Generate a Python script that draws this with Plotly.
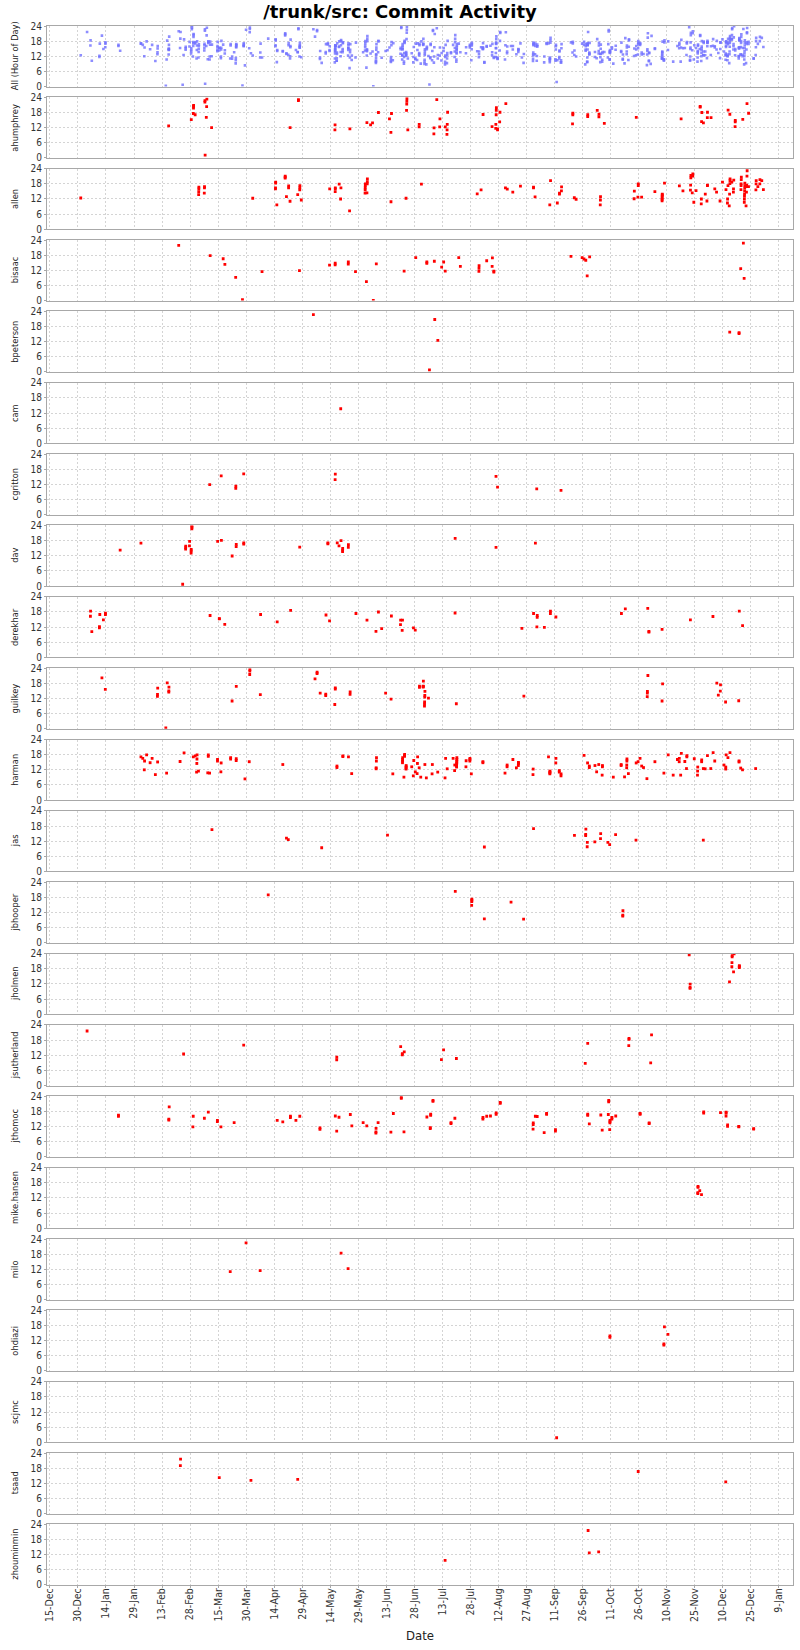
import pandas as pd
import plotly.graph_objects as go
from plotly.subplots import make_subplots

TITLE = "/trunk/src: Commit Activity"
X_START = "2004-12-13 11:00"
X_END = "2006-01-16 12:00"
TICK0 = "2004-12-15"
HOUR_TICKS = [0, 6, 12, 18, 24]

ahumphrey = [("2005-02-16",12.7),("2005-02-28",15.2),("2005-03-01",20.8),("2005-03-01",20.4),("2005-03-01",19.7),("2005-03-01",17.6),("2005-03-02",17.1),("2005-03-07",22.7),("2005-03-07",22.1),("2005-03-08",23.3),("2005-03-08",20.3),("2005-03-08",16.1),("2005-03-08",1.1),("2005-03-11",12.0),("2005-04-22",12.0),("2005-04-26",23.1),("2005-04-26",22.7),("2005-05-16",13.1),("2005-05-16",11.1),("2005-05-24",11.5),("2005-06-02",14.0),("2005-06-04",13.1),("2005-06-05",13.9),("2005-06-08",18.0),("2005-06-14",15.5),("2005-06-15",10.1),("2005-06-15",17.6),
("2005-06-23",23.5),("2005-06-23",22.4),("2005-06-23",21.3),("2005-06-23",18.8),("2005-06-24",11.1),("2005-06-30",13.3),("2005-06-30",12.3),("2005-07-09",23.1),("2005-07-11",15.5),("2005-07-08",11.9),("2005-07-08",9.5),("2005-07-11",12.3),("2005-07-14",12.3),("2005-07-15",13.3),("2005-07-15",11.1),("2005-07-15",18.1),("2005-07-15",9.3),("2005-08-03",17.2),("2005-08-10",19.9),("2005-08-10",18.8),("2005-08-10",17.1),("2005-08-12",14.3),("2005-08-12",18.1),("2005-08-08",12.4),("2005-08-10",13.3),("2005-08-10",11.7),("2005-08-11",11.1),("2005-08-11",11.5),("2005-08-15",21.5),("2005-09-20",17.7),("2005-09-20",17.1),("2005-09-20",13.5),("2005-09-28",17.1),("2005-09-28",16.4),("2005-10-03",18.8),("2005-10-04",17.3),("2005-10-04",16.3),("2005-10-07",13.7),("2005-10-24",16.1),("2005-11-17",15.5),("2005-11-27",20.4),("2005-11-27",20.1),("2005-11-28",18.0),("2005-12-01",18.1),("2005-12-01",16.0),("2005-11-28",14.4),("2005-11-29",13.9),("2005-12-03",16.0),("2005-12-12",18.9),("2005-12-13",17.3),("2005-12-16",14.9),("2005-12-16",14.3),("2005-12-16",12.4),("2005-12-20",15.3),("2005-12-22",21.5),("2005-12-23",17.7)]

allen = [("2004-12-31",12.4),("2005-03-04",16.7),("2005-03-04",16.0),("2005-03-04",14.9),("2005-03-04",13.7),("2005-03-07",16.9),("2005-03-07",16.4),("2005-03-07",14.3),("2005-04-02",12.3),("2005-04-14",18.7),("2005-04-14",18.3),("2005-04-14",16.4),("2005-04-14",16.0),("2005-04-15",9.7),("2005-04-19",21.1),("2005-04-19",20.7),("2005-04-19",20.3),("2005-04-20",12.9),("2005-04-21",17.2),("2005-04-21",16.4),("2005-04-22",11.1),("2005-04-27",17.3),("2005-04-27",16.4),("2005-04-27",15.6),("2005-04-26",13.7),("2005-04-28",11.6),("2005-05-13",16.0),("2005-05-16",16.4),("2005-05-16",16.0),("2005-05-16",14.9),("2005-05-18",17.9),("2005-05-19",16.4),("2005-05-19",12.0),("2005-05-24",7.3),("2005-06-01",18.0),("2005-06-01",17.3),("2005-06-01",16.4),("2005-06-01",15.6),("2005-06-01",14.3),("2005-06-02",20.0),("2005-06-02",18.9),("2005-06-02",18.0),("2005-06-02",14.4),("2005-06-15",10.9),
("2005-06-23",12.3),("2005-07-01",17.9),("2005-07-31",14.0),("2005-08-02",15.6),("2005-08-15",16.4),("2005-08-16",15.9),("2005-08-19",14.7),("2005-08-23",17.1),("2005-08-30",16.7),("2005-08-30",16.4),("2005-08-31",12.8),("2005-09-08",19.3),("2005-09-08",9.7),("2005-09-12",10.4),("2005-09-14",16.8),("2005-09-14",15.2),("2005-09-13",14.3),("2005-09-13",13.9),("2005-09-21",12.5),("2005-09-22",11.9),("2005-10-05",12.9),("2005-10-05",11.6),("2005-10-05",9.7),("2005-10-23",12.1),("2005-10-25",18.0),("2005-10-25",17.3),("2005-10-23",15.1),("2005-10-25",12.7),("2005-10-27",12.7),("2005-11-03",14.9),("2005-11-07",13.6),("2005-11-07",13.1),("2005-11-07",11.9),("2005-11-07",13.9),("2005-11-07",12.5),("2005-11-07",11.3),("2005-11-08",18.3),("2005-11-16",17.2),("2005-11-18",15.2),("2005-11-22",20.4),("2005-11-22",21.3),("2005-11-23",21.9),("2005-11-23",21.1),("2005-11-22",17.5),("2005-11-22",15.5),("2005-11-23",14.4),("2005-11-24",10.7),("2005-11-25",15.3),("2005-11-28",12.0),("2005-11-28",10.1),("2005-11-30",13.9),("2005-12-01",17.5),("2005-12-01",17.3),("2005-12-01",11.2),("2005-12-05",16.0),("2005-12-06",14.7),("2005-12-09",18.7),("2005-12-08",11.2),("2005-12-11",15.7),("2005-12-12",12.0),("2005-12-12",10.4),("2005-12-12",17.3),("2005-12-13",20.0),("2005-12-13",19.3),("2005-12-13",9.3),("2005-12-13",18.1),("2005-12-14",18.7),("2005-12-15",19.5),("2005-12-15",16.0),("2005-12-15",14.7),("2005-12-13",13.9),("2005-12-19",20.7),("2005-12-19",19.7),("2005-12-19",18.0),("2005-12-19",17.3),("2005-12-19",15.7),("2005-12-21",18.3),("2005-12-21",17.3),("2005-12-21",16.3),("2005-12-21",15.2),("2005-12-21",14.0),("2005-12-21",13.1),("2005-12-21",12.0),("2005-12-21",10.7),("2005-12-22",9.3),("2005-12-22",23.2),("2005-12-22",21.1),("2005-12-22",17.5),("2005-12-22",16.9),("2005-12-22",14.7),("2005-12-23",16.9),("2005-12-27",15.6),("2005-12-27",19.3),("2005-12-27",18.0),("2005-12-29",19.7),("2005-12-30",19.3),("2005-12-28",16.9),("2005-12-29",18.0),("2005-12-31",15.7)]

bisaac = [("2005-02-21",21.9),("2005-03-10",17.8),("2005-03-17",16.6),("2005-03-18",14.4),("2005-03-24",9.2),("2005-03-28",0.4),("2005-04-07",11.5),("2005-04-27",11.9),("2005-05-13",14.1),("2005-05-16",14.8),("2005-05-16",14.2),("2005-05-23",15.3),("2005-05-23",14.5),("2005-05-27",11.5),("2005-06-02",7.5),("2005-06-06",0.1),("2005-06-07",14.6),("2005-06-22",11.7),("2005-06-28",17.0),("2005-07-04",15.3),("2005-07-04",14.8),("2005-07-08",15.6),("2005-07-12",13.3),("2005-07-13",15.3),("2005-07-14",11.7),("2005-07-21",17.0),("2005-07-22",13.6),("2005-08-01",13.9),("2005-08-01",12.8),("2005-08-01",11.6),("2005-08-05",15.8),("2005-08-08",16.9),("2005-08-08",13.6),("2005-08-09",11.7),("2005-08-09",11.3),("2005-09-19",17.5),("2005-09-25",17.0),("2005-09-26",16.5),("2005-09-27",16.0),("2005-09-28",9.8),("2005-09-29",17.3),("2005-12-19",12.7),("2005-12-20",22.8),("2005-12-21",8.8)]

bpeterson = [("2005-05-04",22.7),("2005-07-06",0.8),("2005-07-08",20.8),("2005-07-10",12.5),("2005-12-13",15.8),("2005-12-18",15.6),("2005-12-18",15.2)]

cam = [("2005-05-19",13.7)]

cgritton = [("2005-03-10",11.9),("2005-03-16",15.4),("2005-03-24",11.3),("2005-03-24",10.4),("2005-03-28",16.2),("2005-05-16",16.1),("2005-05-16",13.9),("2005-08-10",15.2),("2005-08-11",10.9),("2005-09-01",10.2),("2005-09-14",9.6)]

dav = [("2005-01-21",14.2),("2005-02-01",17.0),("2005-02-24",0.7),("2005-02-25",15.8),("2005-02-25",15.2),("2005-02-25",14.6),("2005-02-27",17.7),("2005-02-27",15.9),("2005-02-28",14.5),("2005-02-28",13.9),("2005-02-28",13.1),("2005-02-28",23.9),("2005-02-28",23.3),("2005-02-28",22.7),("2005-03-14",17.7),("2005-03-16",18.1),("2005-03-22",11.9),("2005-03-24",16.5),("2005-03-24",15.6),("2005-03-28",17.1),("2005-03-28",16.6),("2005-04-27",15.4),("2005-05-12",17.1),("2005-05-12",16.7),("2005-05-17",17.1),("2005-05-18",15.9),("2005-05-19",18.0),("2005-05-20",14.9),("2005-05-20",14.2),("2005-05-20",13.6),("2005-05-23",16.4),("2005-05-23",15.3),("2005-07-19",18.9),("2005-08-10",15.3),("2005-08-31",17.0)]

derekhar = [("2005-01-05",18.3),("2005-01-05",16.3),("2005-01-06",10.2),("2005-01-10",17.0),("2005-01-10",11.7),("2005-01-10",12.2),("2005-01-12",14.9),("2005-01-13",17.0),("2005-01-13",17.5),("2005-03-10",16.6),("2005-03-15",15.3),("2005-03-15",15.4),("2005-03-18",13.1),("2005-04-06",17.0),("2005-04-15",14.1),("2005-04-22",18.6),("2005-05-11",16.8),("2005-05-13",14.5),("2005-05-27",17.4),("2005-06-02",14.8),("2005-06-08",18.0),("2005-06-07",10.3),("2005-06-10",11.4),("2005-06-15",16.4),("2005-06-20",14.8),("2005-06-20",13.0),("2005-06-21",14.8),("2005-06-21",10.7),("2005-06-27",11.7),("2005-06-28",10.8),("2005-07-19",17.6),("2005-08-24",11.5),("2005-08-30",17.4),("2005-09-01",16.6),("2005-09-01",15.9),("2005-09-01",12.1),("2005-09-05",11.9),("2005-09-08",18.3),("2005-09-08",17.4),("2005-09-11",16.0),("2005-10-16",17.4),("2005-10-18",19.2),("2005-10-30",19.4),("2005-10-31",10.3),("2005-10-31",10.0),("2005-11-07",11.1),("2005-11-22",14.9),("2005-12-04",16.2),("2005-12-18",18.3),("2005-12-20",12.6)]

guilkey = [("2005-01-11",20.2),("2005-01-13",15.6),("2005-02-10",16.1),("2005-02-10",13.6),("2005-02-10",12.8),("2005-02-15",18.2),("2005-02-16",16.5),("2005-02-16",15.0),("2005-02-16",14.5),("2005-02-15",0.3),("2005-03-22",11.0),("2005-03-24",16.8),("2005-03-31",23.4),("2005-03-31",22.8),("2005-03-31",21.5),("2005-04-06",13.5),("2005-05-05",19.8),("2005-05-06",22.4),("2005-05-06",21.9),("2005-05-08",14.1),("2005-05-11",13.7),("2005-05-11",13.1),("2005-05-16",16.2),("2005-05-16",15.7),("2005-05-16",9.6),("2005-05-24",14.6),("2005-05-24",13.6),("2005-06-12",14.1),("2005-06-15",11.7),("2005-06-30",16.4),("2005-06-30",16.9),("2005-07-02",16.5),("2005-07-02",16.9),("2005-07-02",16.8),("2005-07-02",18.9),("2005-07-03",14.8),("2005-07-03",13.2),("2005-07-03",12.5),("2005-07-03",10.6),("2005-07-03",9.8),("2005-07-03",9.0),("2005-07-05",12.1),("2005-07-20",9.9),("2005-08-25",12.9),("2005-10-30",21.1),("2005-10-30",14.8),("2005-10-30",14.1),("2005-10-30",12.7),("2005-11-07",17.8),("2005-11-07",11.0),("2005-12-06",18.1),("2005-12-08",17.4),("2005-12-08",14.9),("2005-12-07",13.3),("2005-12-11",10.6),("2005-12-18",11.1)]

harman = [("2005-02-01",17.1),("2005-02-02",16.5),("2005-02-04",17.9),("2005-02-03",15.5),("2005-02-03",12.0),("2005-02-06",14.8),("2005-02-07",16.5),("2005-02-09",10.1),("2005-02-10",15.1),("2005-02-15",10.7),("2005-02-22",15.3),("2005-02-24",18.7),("2005-03-01",17.1),("2005-03-02",17.5),("2005-03-03",17.9),("2005-03-03",16.3),("2005-03-03",14.5),("2005-03-03",11.1),("2005-03-04",11.5),("2005-03-09",17.9),("2005-03-09",17.3),("2005-03-09",10.8),("2005-03-10",10.7),("2005-03-14",16.1),("2005-03-14",15.5),("2005-03-16",14.7),("2005-03-16",11.2),("2005-03-21",16.8),("2005-03-21",16.3),("2005-03-24",16.4),("2005-03-24",15.7),("2005-03-29",8.4),("2005-03-31",15.2),("2005-04-18",14.1),("2005-05-17",13.5),("2005-05-17",12.9),("2005-05-20",17.5),("2005-05-20",17.2),("2005-05-23",17.1),("2005-05-25",10.5),("2005-06-07",16.8),("2005-06-07",15.5),("2005-06-07",12.8),("2005-06-07",12.4),("2005-06-16",10.4),("2005-06-21",16.8),("2005-06-21",16.1),("2005-06-21",15.5),("2005-06-21",14.8),("2005-06-22",17.7),("2005-06-22",17.3),("2005-06-22",18.1),("2005-06-23",13.7),("2005-06-23",13.2),("2005-06-23",12.8),("2005-06-23",12.3),("2005-06-22",9.1),("2005-06-26",13.2),("2005-06-27",15.7),("2005-06-27",9.6),("2005-06-28",11.2),("2005-06-29",10.5),("2005-06-29",17.1),("2005-06-29",14.5),("2005-06-30",12.8),("2005-07-01",9.1),("2005-07-03",14.1),("2005-07-04",8.8),("2005-07-07",10.4),("2005-07-07",14.1),("2005-07-10",11.1),("2005-07-14",16.5),("2005-07-14",8.8),("2005-07-15",12.4),("2005-07-18",16.5),("2005-07-19",11.7),("2005-07-19",13.9),("2005-07-20",14.4),("2005-07-20",13.5),("2005-07-20",14.8),("2005-07-20",15.5),("2005-07-20",16.8),("2005-07-20",16.1),("2005-07-20",13.1),("2005-07-25",13.2),("2005-07-25",15.6),("2005-07-27",16.5),("2005-07-27",15.5),("2005-07-27",16.1),("2005-07-28",10.4),("2005-08-03",15.2),("2005-08-03",14.8),("2005-08-15",10.7),("2005-08-16",13.2),("2005-08-16",13.9),("2005-08-19",16.1),("2005-08-21",12.8),("2005-08-22",14.9),("2005-08-22",14.4),("2005-08-22",14.7),("2005-08-22",13.7),("2005-08-30",12.3),("2005-08-30",10.1),("2005-09-07",17.1),("2005-09-08",11.1),("2005-09-08",10.4),("2005-09-08",11.5),("2005-09-08",10.8),("2005-09-11",16.5),("2005-09-11",14.7),("2005-09-13",11.7),("2005-09-13",11.1),("2005-09-14",10.4),("2005-09-14",9.6),("2005-09-26",17.7),("2005-09-28",14.7),("2005-09-29",13.5),("2005-09-29",12.9),("2005-10-02",13.7),("2005-10-03",11.2),("2005-10-04",14.1),("2005-10-06",13.2),("2005-10-06",13.7),("2005-10-06",9.9),("2005-10-12",9.1),("2005-10-16",13.7),("2005-10-16",14.1),("2005-10-18",9.2),("2005-10-19",16.3),("2005-10-19",15.5),("2005-10-19",13.9),("2005-10-19",12.8),("2005-10-20",10.5),("2005-10-24",14.7),("2005-10-25",15.2),("2005-10-26",16.5),("2005-10-27",13.5),("2005-10-28",12.9),("2005-10-30",8.5),("2005-11-03",15.2),("2005-11-08",10.7),("2005-11-10",17.9),("2005-11-13",9.9),("2005-11-15",16.1),("2005-11-16",16.5),("2005-11-16",15.2),("2005-11-17",9.9),("2005-11-17",18.5),("2005-11-19",15.3),("2005-11-20",17.6),("2005-11-20",17.1),("2005-11-20",12.5),("2005-11-24",16.4),("2005-11-26",9.9),("2005-11-26",11.5),("2005-11-26",13.1),("2005-11-28",15.2),("2005-11-28",15.9),("2005-11-29",12.5),("2005-11-30",12.4),("2005-12-01",17.6),("2005-12-03",12.5),("2005-12-04",18.8),("2005-12-05",15.5),("2005-12-10",13.9),("2005-12-11",13.1),("2005-12-11",12.3),("2005-12-11",17.9),("2005-12-12",16.8),("2005-12-13",18.8),("2005-12-18",15.5),("2005-12-18",15.1),("2005-12-19",12.7),("2005-12-20",12.0),("2005-12-27",12.5)]

jas = [("2005-03-11",16.6),("2005-04-20",13.2),("2005-04-21",12.6),("2005-05-09",9.4),("2005-06-13",14.4),("2005-08-04",9.7),("2005-08-30",17.0),("2005-09-21",14.3),("2005-09-27",16.8),("2005-09-27",14.7),("2005-09-27",14.2),("2005-09-28",11.5),("2005-09-28",9.8),("2005-10-02",11.7),("2005-10-05",15.0),("2005-10-05",13.0),("2005-10-09",11.5),("2005-10-10",10.6),("2005-10-13",14.6),("2005-10-24",12.4),("2005-11-29",12.4)]

jbhooper = [("2005-04-10",19.0),("2005-07-19",20.4),("2005-07-28",17.3),("2005-07-28",16.8),("2005-07-28",16.3),("2005-07-28",14.8),("2005-08-04",9.5),("2005-08-18",16.1),("2005-08-25",9.4),("2005-10-17",12.7),("2005-10-17",11.0),("2005-10-17",10.6)]

jholmen = [("2005-11-21",23.5),("2005-11-22",11.9),("2005-11-22",10.6),("2005-11-22",10.2),("2005-12-13",12.8),("2005-12-14",20.4),("2005-12-14",18.8),("2005-12-14",22.7),("2005-12-14",23.2),("2005-12-15",23.9),("2005-12-15",16.8),("2005-12-18",18.5),("2005-12-18",18.9),("2005-12-18",19.2)]

jsutherland = [("2005-01-03",21.6),("2005-02-24",12.5),("2005-03-28",16.0),("2005-05-17",11.2),("2005-05-17",10.2),("2005-06-20",15.4),("2005-06-21",12.2),("2005-06-21",12.6),("2005-06-22",13.3),("2005-07-12",10.3),("2005-07-13",14.1),("2005-07-20",10.7),("2005-09-27",8.8),("2005-09-28",16.7),("2005-10-20",18.7),("2005-10-20",18.3),("2005-10-20",15.8),("2005-11-01",20.1),("2005-11-01",9.0)]

jthomoc = [("2005-01-20",16.5),("2005-01-20",16.1),("2005-02-16",19.8),("2005-02-16",15.0),("2005-02-16",14.6),("2005-03-01",16.1),("2005-03-01",11.9),("2005-03-07",15.3),("2005-03-09",17.7),("2005-03-14",14.5),("2005-03-14",14.0),("2005-03-16",11.9),("2005-03-23",13.6),("2005-04-15",14.5),("2005-04-18",13.9),("2005-04-22",16.1),("2005-04-22",15.6),("2005-04-25",14.5),("2005-04-27",16.1),("2005-05-08",11.5),("2005-05-08",10.9),("2005-05-16",16.2),("2005-05-17",10.2),("2005-05-18",15.7),("2005-05-24",16.8),("2005-05-25",12.3),("2005-05-31",13.6),("2005-06-02",12.3),("2005-06-07",11.3),("2005-06-07",9.9),("2005-06-07",9.4),("2005-06-08",13.6),("2005-06-15",9.8),("2005-06-16",17.2),("2005-06-20",23.6),("2005-06-20",23.2),("2005-06-22",9.9),("2005-07-04",15.8),("2005-07-06",16.9),("2005-07-06",16.5),("2005-07-06",11.6),("2005-07-06",11.2),("2005-07-07",22.4),("2005-07-07",22.0),("2005-07-17",13.6),("2005-07-17",13.2),("2005-07-19",15.3),("2005-08-03",15.0),("2005-08-03",15.6),("2005-08-05",16.1),("2005-08-07",16.2),("2005-08-10",16.9),("2005-08-10",17.4),("2005-08-12",21.6),("2005-08-12",21.2),("2005-08-30",13.5),("2005-08-30",12.8),("2005-08-30",11.0),("2005-08-31",16.1),("2005-09-01",16.0),("2005-09-05",9.6),("2005-09-06",17.2),("2005-09-06",16.9),("2005-09-11",10.8),("2005-09-11",10.2),("2005-09-28",16.9),("2005-09-28",16.5),("2005-09-29",13.1),("2005-10-05",16.6),("2005-10-06",10.6),("2005-10-09",22.4),("2005-10-09",21.8),("2005-10-09",16.8),("2005-10-10",14.5),("2005-10-10",14.0),("2005-10-10",13.5),("2005-10-10",10.8),("2005-10-11",15.6),("2005-10-11",15.0),("2005-10-13",16.2),("2005-10-26",17.2),("2005-10-26",16.9),("2005-10-31",13.5),("2005-10-31",13.2),("2005-11-29",17.8),("2005-11-29",17.3),("2005-12-08",17.5),("2005-12-11",17.7),("2005-12-11",17.3),("2005-12-11",16.2),("2005-12-12",12.7),("2005-12-12",12.1),("2005-12-18",12.1),("2005-12-18",11.9),("2005-12-26",11.2),("2005-12-26",11.0)]

mike_hansen = [("2005-11-26",16.6),("2005-11-26",16.2),("2005-11-26",14.1),("2005-11-26",13.7),("2005-11-27",14.9),("2005-11-28",13.3)]

milo = [("2005-03-21",11.1),("2005-03-29",22.5),("2005-04-06",11.5),("2005-05-19",18.4),("2005-05-23",12.3)]

ohdiazi = [("2005-10-10",13.9),("2005-10-10",13.3),("2005-11-08",17.5),("2005-11-10",14.5),("2005-11-08",10.7),("2005-11-08",10.2)]

scjmc = [("2005-09-12",1.8)]

tsaad = [("2005-02-22",21.6),("2005-02-22",19.0),("2005-03-15",14.3),("2005-04-01",13.2),("2005-04-26",13.6),("2005-10-25",16.7),("2005-12-11",12.6)]

zhouminmin = [("2005-07-14",9.8),("2005-09-28",21.6),("2005-09-29",12.7),("2005-10-04",13.1)]

author_names = ["ahumphrey", "allen", "bisaac", "bpeterson", "cam", "cgritton", "dav",
                "derekhar", "guilkey", "harman", "jas", "jbhooper", "jholmen",
                "jsutherland", "jthomoc", "mike.hansen", "milo", "ohdiazi", "scjmc",
                "tsaad", "zhouminmin"]
author_data = [ahumphrey, allen, bisaac, bpeterson, cam, cgritton, dav, derekhar, guilkey,
               harman, jas, jbhooper, jholmen, jsutherland, jthomoc, mike_hansen, milo,
               ohdiazi, scjmc, tsaad, zhouminmin]


def xy(points):
    xs = [pd.Timestamp(d) + pd.Timedelta(hours=h) for d, h in points]
    ys = [h for d, h in points]
    return xs, ys


all_points = [p for pts in author_data for p in pts]

n_rows = 1 + len(author_names)
W, H = 800, 1650
M_L, M_R, M_T, M_B = 47, 7, 26, 65
plot_h = H - M_T - M_B
plot_w = W - M_L - M_R
gap_px = 10.8

fig = make_subplots(rows=n_rows, cols=1, shared_xaxes=True,
                    vertical_spacing=gap_px / plot_h)

ax, ay = xy(all_points)
fig.add_trace(go.Scatter(x=ax, y=ay, mode="markers",
                         marker=dict(symbol="square", size=2.6, color="#7070ff",
                                     opacity=0.8, line=dict(width=0)),
                         showlegend=False, hoverinfo="skip"), row=1, col=1)

for i, pts in enumerate(author_data):
    x, y = xy(pts)
    fig.add_trace(go.Scatter(x=x, y=y, mode="markers",
                             marker=dict(symbol="square", size=2.8, color="#ff0000",
                                         line=dict(width=0)),
                             showlegend=False, hoverinfo="skip"), row=i + 2, col=1)

GRID = "#d4d4d4"
BORDER = "#a8a8a8"
TICK_FONT = dict(family="DejaVu Sans Condensed, DejaVu Sans", size=10, color="#333333")
XTICK_FONT = dict(family="DejaVu Sans Condensed, DejaVu Sans", size=10.5, color="#333333")

fig.update_xaxes(type="date", range=[X_START, X_END], tick0=TICK0,
                 dtick=15 * 86400000, tickformat="%-d-%b", tickangle=-90,
                 showgrid=True, gridcolor=GRID, griddash="2px,2px", gridwidth=1,
                 showline=True, mirror=True, linecolor=BORDER, linewidth=1,
                 zeroline=False, ticks="", tickfont=XTICK_FONT)
fig.update_xaxes(ticks="outside", ticklen=2, tickcolor=BORDER,
                 ticklabelstandoff=-4, row=n_rows, col=1)

fig.update_yaxes(range=[0, 24], tickvals=HOUR_TICKS, showgrid=True, gridcolor=GRID,
                 griddash="2px,2px", gridwidth=1, showline=True, mirror=True,
                 linecolor=BORDER, linewidth=1, zeroline=False, ticks="outside",
                 ticklen=2, tickcolor=BORDER, tickfont=TICK_FONT, fixedrange=True)

labels = ["All (Hour of Day)"] + author_names
for i, lab in enumerate(labels):
    yref = "y domain" if i == 0 else f"y{i + 1} domain"
    fig.add_annotation(text=lab, xref="paper", yref=yref, x=-(M_L - 15) / plot_w,
                       y=0.5, xanchor="center", yanchor="middle", textangle=-90,
                       showarrow=False,
                       font=dict(family="DejaVu Sans", size=8.3, color="#222222"))

fig.add_annotation(text="Date", xref="paper", yref="paper", x=0.5,
                   y=-(1635 - (H - M_B)) / plot_h, xanchor="center", yanchor="middle",
                   showarrow=False, font=dict(family="DejaVu Sans Condensed, DejaVu Sans",
                                              size=13, color="#222222"))

fig.update_layout(
    width=W, height=H,
    margin=dict(l=M_L, r=M_R, t=M_T, b=M_B),
    paper_bgcolor="white", plot_bgcolor="white",
    title=dict(text="<b>" + TITLE + "</b>", x=0.5, xanchor="center",
               y=1 - 12 / H, yanchor="middle",
               font=dict(family="DejaVu Sans", size=18, color="#000000")),
    showlegend=False,
)

fig.write_html("out.html", config={"displayModeBar": False},
               post_script="document.body.style.margin='0';")
